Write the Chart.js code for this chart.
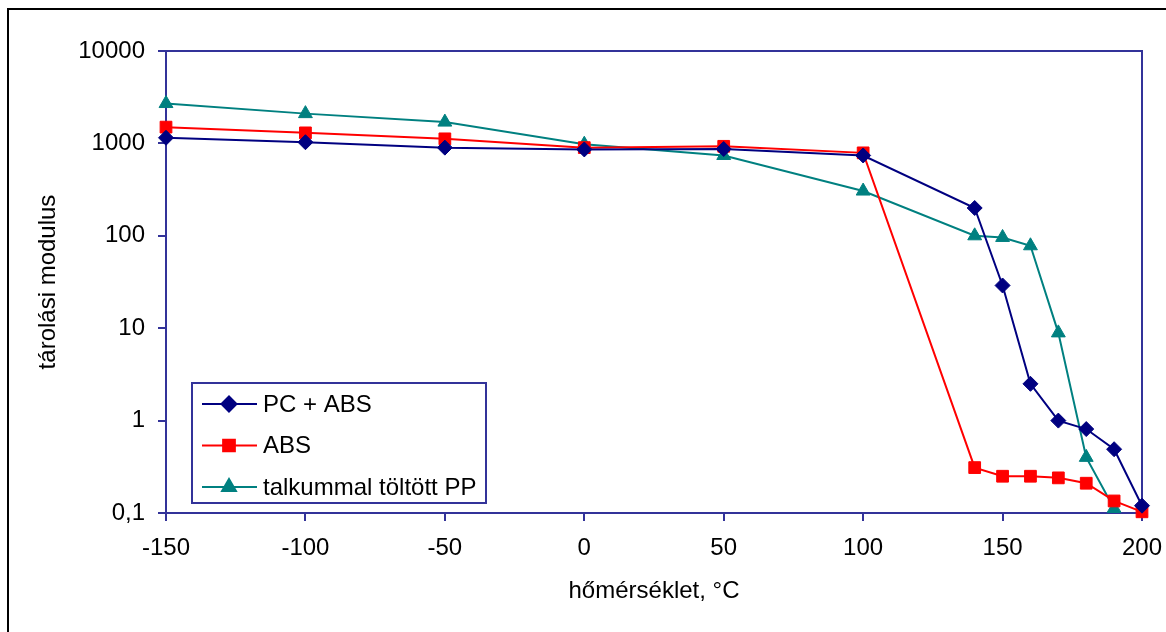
<!DOCTYPE html>
<html>
<head>
<meta charset="utf-8">
<script src="https://cdn.jsdelivr.net/npm/chart.js@4/dist/chart.umd.min.js"></script>
<style>
    html, body { margin: 0; padding: 0; background: #fff; }
    #wrap { width: 1166px; height: 632px; }
</style>
</head>
<body>
<div id="wrap"><canvas id="chart" width="1166" height="632"></canvas></div>
<script>
// Data
const temps = [-150, -100, -50, 0, 50, 100, 140, 150, 160, 170, 180, 190, 200];
const pcAbs = [1150, 1030, 900, 860, 870, 740, 200, 29, 2.5, 1.0, 0.81, 0.49, 0.12];
const abs = [1500, 1300, 1120, 900, 930, 790, 0.31, 0.25, 0.25, 0.24, 0.21, 0.135, 0.103];
const ppTemps = [-150, -100, -50, 0, 50, 100, 140, 150, 160, 170, 180, 190];
const pp = [2700, 2100, 1700, 980, 740, 305, 100, 96, 78, 8.9, 0.4, 0.112];

const seriesLabels = ['PC + ABS', 'ABS', 'talkummal töltött PP'];
const yTicks = [0.1, 1, 10, 100, 1000, 10000];
const xTicks = [-150, -100, -50, 0, 50, 100, 150, 200];

const AXIS = '#333399';
const FONT = '"Liberation Sans", Arial, sans-serif';

const toPoints = (xs, ys) => xs.map((x, i) => ({ x: x, y: ys[i] }));

// Plot frame + outer border
const framePlugin = {
    id: 'frame',
    beforeDatasetsDraw(chart) {
        const { ctx, chartArea: a } = chart;
        ctx.save();
        ctx.strokeStyle = AXIS;
        ctx.lineWidth = 2;
        ctx.strokeRect(a.left, a.top, a.right - a.left, a.bottom - a.top);
        ctx.restore();
    },
    afterDraw(chart) {
        const ctx = chart.ctx;
        ctx.save();
        ctx.strokeStyle = '#000';
        ctx.lineWidth = 2;
        ctx.beginPath();
        ctx.moveTo(8, 632);
        ctx.lineTo(8, 9);
        ctx.lineTo(1166, 9);
        ctx.stroke();
        ctx.restore();
    }
};

// Legend box inside the plot, line sample with marker
const legendPlugin = {
    id: 'boxLegend',
    afterDraw(chart) {
        const ctx = chart.ctx;
        const box = { x: 192, y: 383, w: 294, h: 120 };
        ctx.save();
        ctx.fillStyle = '#fff';
        ctx.fillRect(box.x, box.y, box.w, box.h);
        ctx.strokeStyle = AXIS;
        ctx.lineWidth = 2;
        ctx.strokeRect(box.x, box.y, box.w, box.h);

        chart.data.datasets.forEach((ds, i) => {
            const y = 404 + i * 41.5;
            ctx.strokeStyle = ds.borderColor;
            ctx.lineWidth = 2;
            ctx.beginPath();
            ctx.moveTo(202, y);
            ctx.lineTo(257, y);
            ctx.stroke();
            ctx.fillStyle = ds.pointBackgroundColor;
            Chart.helpers.drawPoint(ctx, {
                pointStyle: ds.pointStyle,
                radius: ds.pointRadius,
                rotation: 0,
                borderWidth: 1
            }, 229, y);
            ctx.fill();

            ctx.fillStyle = '#000';
            ctx.font = '24px ' + FONT;
            ctx.textBaseline = 'middle';
            ctx.textAlign = 'left';
            ctx.fillText(ds.label, 263, y + 1);
        });
        ctx.restore();
    }
};

function makeSet(label, pts, color, style, radius) {
    return {
        label: label,
        data: pts,
        borderColor: color,
        backgroundColor: color,
        pointBackgroundColor: color,
        pointBorderColor: color,
        pointBorderWidth: 1,
        pointStyle: style,
        pointRadius: radius,
        borderWidth: 2,
        tension: 0,
        clip: false
    };
}

new Chart(document.getElementById('chart'), {
    type: 'line',
    data: {
        datasets: [
            makeSet(seriesLabels[0], toPoints(temps, pcAbs), '#000080', 'rectRot', 7.5),
            makeSet(seriesLabels[1], toPoints(temps, abs), '#ff0000', 'rect', 8.3),
            makeSet(seriesLabels[2], toPoints(ppTemps, pp), '#008080', 'triangle', 8)
        ]
    },
    plugins: [framePlugin, legendPlugin],
    options: {
        responsive: false,
        animation: false,
        layout: { padding: { top: 51, right: 24, left: 0, bottom: 0 } },
        plugins: {
            legend: { display: false },
            tooltip: { enabled: false }
        },
        scales: {
            x: {
                type: 'linear',
                min: -150,
                max: 200,
                afterFit(scale) {
                    scale.height = 119;
                    scale.paddingLeft = 0;
                    scale.paddingRight = 0;
                },
                afterBuildTicks(scale) { scale.ticks = xTicks.map(v => ({ value: v })); },
                border: { color: AXIS, width: 2 },
                grid: { drawOnChartArea: false, drawTicks: true, tickLength: 8, color: AXIS, lineWidth: 2 },
                ticks: { color: '#000', padding: 13, maxRotation: 0, font: { family: FONT, size: 24 } },
                title: {
                    display: true,
                    text: 'hőmérséklet, °C',
                    color: '#000',
                    padding: { top: 0, bottom: 26 },
                    font: { family: FONT, size: 24 }
                }
            },
            y: {
                type: 'logarithmic',
                min: 0.1,
                max: 10000,
                afterFit(scale) {
                    scale.width = 166;
                    scale.paddingTop = 0;
                    scale.paddingBottom = 0;
                },
                afterBuildTicks(scale) { scale.ticks = yTicks.map(v => ({ value: v })); },
                border: { color: AXIS, width: 2 },
                grid: { drawOnChartArea: false, drawTicks: true, tickLength: 8, color: AXIS, lineWidth: 2 },
                ticks: {
                    color: '#000',
                    padding: 13,
                    font: { family: FONT, size: 24 },
                    callback: v => String(v).replace('.', ',')
                },
                title: {
                    display: true,
                    text: 'tárolási modulus',
                    color: '#000',
                    padding: { top: 34, bottom: 0 },
                    font: { family: FONT, size: 24 }
                }
            }
        }
    }
});
</script>
</body>
</html>
